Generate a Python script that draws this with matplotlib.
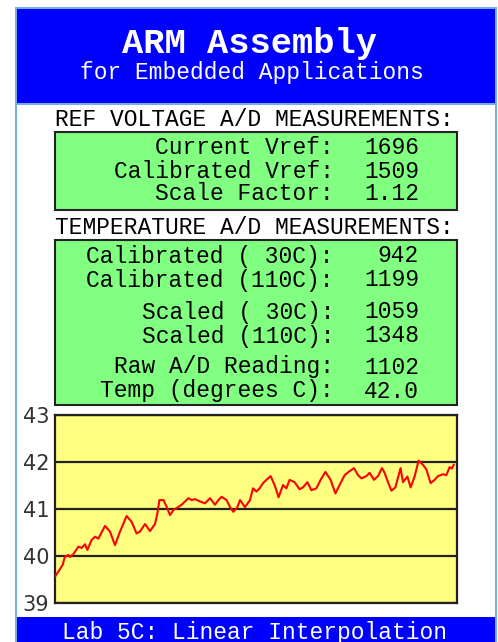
import matplotlib
matplotlib.use("Agg")
import matplotlib.pyplot as plt
from matplotlib.patches import Rectangle

# ---------------- data ----------------
title = "ARM Assembly"
subtitle = "for Embedded Applications"
footer = "Lab 5C: Linear Interpolation"

ref_header = "REF VOLTAGE A/D MEASUREMENTS:"
ref_labels = ["Current Vref:", "Calibrated Vref:", "Scale Factor:"]
ref_values = ["1696", "1509", "1.12"]

temp_header = "TEMPERATURE A/D MEASUREMENTS:"
temp_labels = ["Calibrated ( 30C):", "Calibrated (110C):",
               "Scaled ( 30C):", "Scaled (110C):",
               "Raw A/D Reading:", "Temp (degrees C):"]
temp_values = ["942", "1199", "1059", "1348", "1102", "42.0"]

y_ticks = [39, 40, 41, 42, 43]

sample = [0, 1.7, 3.8, 5, 6.7, 7.5, 9.2, 11.7, 13.3, 15, 16.2, 18.3, 20, 21.7,
          25, 27.5, 30, 32.5, 35.8, 38.3, 40.8, 42.5, 45, 47.5, 50, 51.2, 52.2,
          54.2, 55.8, 57.5, 59.2, 60.8, 63.3, 65, 66.7, 68.3, 70, 72.5, 75,
          77.5, 80, 81.7, 83.3, 85.8, 87.5, 89.2, 91.2, 92.5, 95, 97.5,
          99, 100.7, 102.3, 104, 105.7, 107.8, 109.8, 111.8, 114, 115.7,
          117.3, 119.8, 122.3, 124, 126.2, 128.2, 130.7, 132.8, 135.2, 137.8,
          140.2, 142.3, 144.8, 146.8, 149.5, 151.5, 153.2, 155.7, 157.3, 159.5,
          161.5, 163.5, 164.8, 166.5, 168.2, 170.2, 171.5, 172.8, 174, 176.2,
          177.8, 179.8, 181.8, 184, 185.7, 187.8, 189.8, 191.5, 194, 195.7,
          197.3, 198.5, 199.3]
temp_c = [39.56, 39.67, 39.81, 39.99, 40.02, 39.98, 40.04, 40.20, 40.17, 40.25,
          40.13, 40.34, 40.41, 40.37, 40.64, 40.52, 40.23, 40.52, 40.85, 40.73,
          40.48, 40.52, 40.68, 40.53, 40.68, 40.91, 41.19, 41.19, 41.05, 40.87,
          40.98, 41.02, 41.09, 41.16, 41.23, 41.19, 41.21, 41.16, 41.12, 41.23,
          41.09, 41.19, 41.26, 41.19, 41.04, 40.94, 41.04, 41.19, 41.04, 41.19,
          41.44, 41.37, 41.44, 41.55, 41.62, 41.70, 41.51, 41.25, 41.51, 41.44,
          41.62, 41.57, 41.42, 41.46, 41.57, 41.40, 41.44, 41.62, 41.79, 41.62,
          41.33, 41.51, 41.72, 41.79, 41.87, 41.72, 41.65, 41.70, 41.77, 41.62,
          41.70, 41.87, 41.77, 41.57, 41.39, 41.46, 41.67, 41.87, 41.57, 41.69,
          41.46, 41.69, 42.03, 41.94, 41.84, 41.55, 41.62, 41.70, 41.74, 41.72,
          41.89, 41.86, 41.94]

# ---------------- layout ----------------
W, H = 498, 642
fig = plt.figure(figsize=(W / 100, H / 100), dpi=100)
bg = fig.add_axes([0, 0, 1, 1])
bg.set_xlim(0, W)
bg.set_ylim(H, 0)
bg.axis("off")

MONO = "Liberation Mono"
FRAME = "#78ACE4"
BLUE = "#0000FF"
GREEN = "#80FF80"
YELLOW = "#FFFF80"
EDGE = "#222222"

def rect(x0, y0, x1, y1, fc, ec="none", lw=0, z=1):
    bg.add_patch(Rectangle((x0, y0), x1 - x0, y1 - y0, facecolor=fc,
                           edgecolor=ec, linewidth=lw, zorder=z))

rect(15, 7, 497, H + 5, FRAME)
rect(17, 9, 495, H + 5, "white", z=2)
rect(17, 9, 495, 103, BLUE, z=3)
rect(17, 103, 495, 104.5, FRAME, z=3)
rect(17, 617, 495, H + 5, BLUE, z=3)

bg.text(250, 43, title, family=MONO, fontweight="bold", fontsize=25.5,
        color="white", ha="center", va="center", zorder=5)
bg.text(252, 73, subtitle, family=MONO, fontsize=16.5, color="white",
        ha="center", va="center", zorder=5)
bg.text(255, 632, footer, family=MONO, fontsize=16.5, color="white",
        ha="center", va="center", zorder=5)

# boxes
rect(55, 132, 457, 210, GREEN, EDGE, 1.5, z=3)
rect(55, 240, 457, 405, GREEN, EDGE, 1.5, z=3)

bg.text(55, 120, ref_header, family=MONO, fontsize=16.5, color="black",
        ha="left", va="center", zorder=5)
bg.text(55, 228, temp_header, family=MONO, fontsize=16.5, color="black",
        ha="left", va="center", zorder=5)

ref_rows = [148, 171, 194]
for yy, lab, val in zip(ref_rows, ref_labels, ref_values):
    bg.text(334, yy, lab, family=MONO, fontsize=16.5, ha="right", va="center", zorder=5)
    bg.text(419, yy, val, family=MONO, fontsize=16.5, ha="right", va="center", zorder=5)

temp_rows = [256, 280, 312, 336, 367, 391]
for yy, lab, val in zip(temp_rows, temp_labels, temp_values):
    bg.text(334, yy, lab, family=MONO, fontsize=16.5, ha="right", va="center", zorder=5)
    bg.text(419, yy, val, family=MONO, fontsize=16.5, ha="right", va="center", zorder=5)

# chart
px0, py0, px1, py1 = 55, 415, 457, 603
ax = fig.add_axes([px0 / W, (H - py1) / H, (px1 - px0) / W, (py1 - py0) / H])
ax.set_zorder(10)
ax.set_facecolor(YELLOW)
ax.set_ylim(y_ticks[0], y_ticks[-1])
ax.set_xlim(0, 201)
ax.set_yticks(y_ticks)
ax.set_xticks([])
ax.grid(axis="y", color=EDGE, linewidth=1.6)
ax.set_axisbelow(True)
for s in ax.spines.values():
    s.set_color(EDGE)
    s.set_linewidth(1.6)
ax.tick_params(axis="y", length=0, pad=4, labelsize=15, labelcolor="#333333")
ax.plot(sample, temp_c, color="red", linewidth=1.5, zorder=3)

fig.savefig("out.png", dpi=100)
